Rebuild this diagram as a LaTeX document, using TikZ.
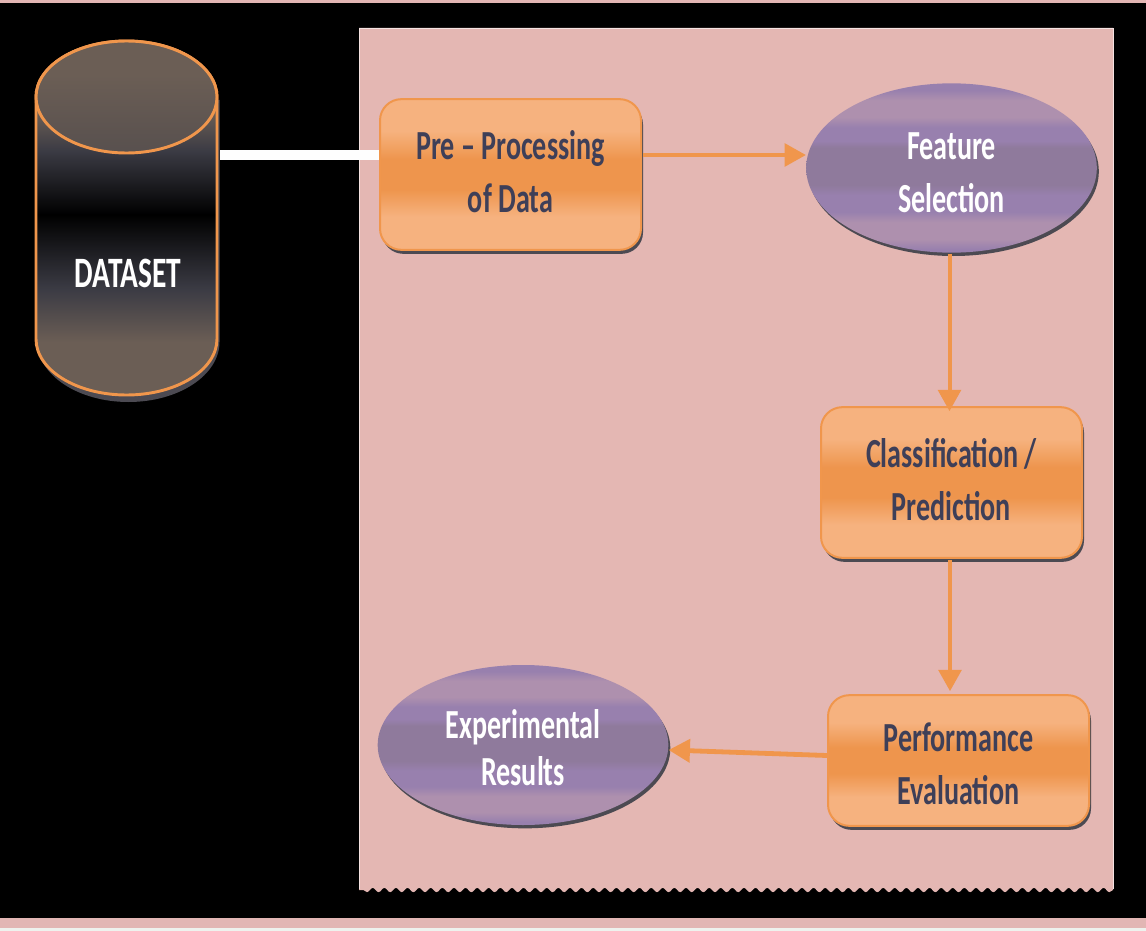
\documentclass[tikz,border=0pt]{standalone}
\usepackage{fontspec}
\newfontfamily\dfont[FakeStretch=0.68]{Carlito}
\usetikzlibrary{shapes.geometric,shadows,arrows.meta,decorations.pathmorphing,calc}
\definecolor{panelpink}{HTML}{E4B7B3}
\definecolor{boxlight}{HTML}{F6B27F}
\definecolor{boxmid}{HTML}{EE954D}
\definecolor{edgeor}{HTML}{F0964C}
\definecolor{ellmid}{HTML}{9880AE}
\definecolor{elldot}{HTML}{8F7A9C}
\definecolor{elllight}{HTML}{AE90AE}
\definecolor{shadowgrey}{HTML}{4C4A52}
\definecolor{textdark}{HTML}{3E3F58}
\definecolor{cylbrown}{HTML}{6B5E55}
\definecolor{cylslate}{HTML}{3B3B44}
\definecolor{stripe}{HTML}{E2B6B4}
\definecolor{pale}{HTML}{EEF2EE}
\pgfdeclareverticalshading{boxshade}{100bp}{color(0bp)=(boxlight); color(36bp)=(boxlight); color(45bp)=(boxmid); color(55bp)=(boxmid); color(64.5bp)=(boxlight); color(100bp)=(boxlight)}
\pgfdeclareverticalshading{ellshade}{100bp}{color(0bp)=(ellmid); color(26bp)=(ellmid); color(29bp)=(elllight); color(34bp)=(elllight); color(37bp)=(ellmid); color(42bp)=(ellmid); color(45bp)=(elldot); color(56bp)=(elldot); color(58bp)=(ellmid); color(62bp)=(ellmid); color(65bp)=(elllight); color(70bp)=(elllight); color(73bp)=(ellmid); color(100bp)=(ellmid)}
\pgfdeclareverticalshading{cylshade}{100bp}{color(0bp)=(cylbrown); color(32.5bp)=(cylbrown); color(40bp)=(cylslate); color(50.5bp)=(black); color(59.5bp)=(cylslate); color(65bp)=(cylbrown); color(100bp)=(cylbrown)}
\pgfdeclareverticalshading{captop}{100bp}{color(0bp)=(cylslate!40!cylbrown); color(25bp)=(cylslate!40!cylbrown); color(60bp)=(cylbrown); color(100bp)=(cylbrown)}
\tikzset{
  x=0.75pt,y=-0.75pt,
  dtext/.style={font=\dfont\bfseries\fontsize{31pt}{39.75pt}\selectfont,align=center,inner sep=0pt},
  procbox/.style={rectangle,rounded corners=16pt,draw=edgeor,line width=1.5pt,shading=boxshade,
    drop shadow={shadow xshift=1.5pt,shadow yshift=-3pt,fill=shadowgrey,opacity=1},
    dtext,text=textdark},
  resell/.style={ellipse,draw=none,shading=ellshade,
    drop shadow={shadow xshift=1.5pt,shadow yshift=-2.5pt,fill=shadowgrey,opacity=1},
    dtext,text=white},
  flow/.style={draw=edgeor,line width=3pt,-{Triangle[length=16pt,width=17pt,fill=edgeor]}},
  feed/.style={draw=white!95!pale,line width=8pt}
}
\begin{document}
\begin{tikzpicture}
\useasboundingbox (0,0) rectangle (1146,931);
% page background
\fill[pale] (0,0) rectangle (1146,931);
\fill[stripe] (0,0) rectangle (1146,928);
\fill[black] (0,3) rectangle (1146,918);
% panel
\fill[panelpink] (359,28) -- (1113,28) -- (1113,890)
  decorate[decoration={snake,segment length=8.7pt,amplitude=1.6pt}] { -- (359,890) } -- cycle;
\draw[white!60!panelpink,line width=0.7pt] (359.5,889) -- (359.5,28.5) -- (1113,28.5) -- (1113,889);
% cylinder
\node[draw=none,minimum width=135.75pt,minimum height=265.5pt,inner sep=0pt] (cyl) at (126.5,218) {};
\fill[shadowgrey] (219.5,100) -- (219.5,342) arc[start angle=0,end angle=180,x radius=91,y radius=60] -- (37.5,100) -- cycle;
\shade[shading=cylshade,draw=edgeor,line width=2.2pt]
  (36,97) arc[start angle=180,end angle=0,x radius=90.5,y radius=-56]
  -- (217,339) arc[start angle=0,end angle=180,x radius=90.5,y radius=56] -- cycle;
\shade[shading=captop,draw=edgeor,line width=2.2pt]
  (126.5,97) ellipse[x radius=90.5,y radius=56];
\node[dtext,text=white,font=\dfont\bfseries\fontsize{32.5pt}{36pt}\selectfont] (dslabel) at (128,273) {DATASET};
% process nodes
\node[procbox,minimum width=195.75pt,minimum height=113pt] (pre) at (510.5,174.5) {Pre – Processing\\of Data\rule[-4.5pt]{0pt}{1pt}};
\node[resell,minimum width=218pt,minimum height=127pt] (fs) at (951.5,168) {\rule{0pt}{27.5pt}Feature\\Selection};
\node[procbox,minimum width=195.75pt,minimum height=113pt] (cls) at (951.5,482.5) {Classification /\\Prediction\rule[-5.3pt]{0pt}{1pt}};
\node[procbox,minimum width=195.75pt,minimum height=98pt] (perf) at (958.5,760.5) {\rule{0pt}{27pt}Performance\\Evaluation};
\node[resell,minimum width=218pt,minimum height=120pt,font=\dfont\bfseries\fontsize{31pt}{35.25pt}\selectfont] (res) at (523,745) {\rule{0pt}{26pt}Experimental\\Results};
% connectors
\draw[feed] ($(cyl.east)+(3,-63)$) -- ($(pre.west)+(0,-19.5)$);
\draw[flow] ($(pre.east)+(1,-19.5)$) -- ($(fs.west)+(0,-13)$);
\draw[flow] ($(fs.south)+(-2,1)$) -- ($(cls.north)+(-2,5)$);
\draw[flow] ($(cls.south)+(-1.5,1)$) -- ($(perf.north)+(-8.5,-3)$);
\draw[flow,line width=3.6pt] ($(perf.west)+(0,-5)$) -- ($(res.east)+(0,5)$);
\end{tikzpicture}
\end{document}
